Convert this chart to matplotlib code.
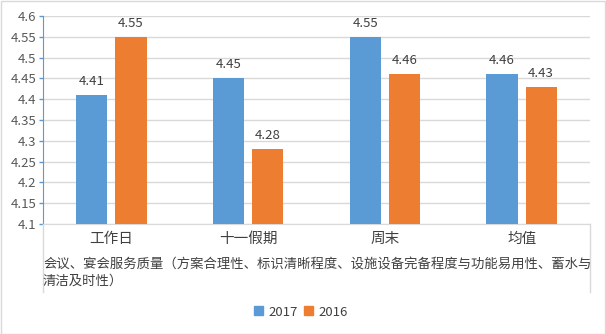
import matplotlib
matplotlib.use("Agg")
import matplotlib.pyplot as plt
import numpy as np
from matplotlib.patches import Rectangle
from matplotlib.lines import Line2D

plt.rcParams['font.family'] = ['Noto Sans CJK SC', 'DejaVu Sans']

categories = ["工作日", "十一假期", "周末", "均值"]
series_names = ["2017", "2016"]
values_2017 = [4.41, 4.45, 4.55, 4.46]
values_2016 = [4.55, 4.28, 4.46, 4.43]
y_ticks = [4.1, 4.15, 4.2, 4.25, 4.3, 4.35, 4.4, 4.45, 4.5, 4.55, 4.6]
axis_title = "会议、宴会服务质量（方案合理性、标识清晰程度、设施设备完备程度与功能易用性、蓄水与\n清洁及时性）"

colors = ["#5B9BD5", "#ED7D31"]
W, H = 606, 334
fig = plt.figure(figsize=(W / 100, H / 100), dpi=100)

left, right, top, bottom = 43, 590, 16, 224
ax = fig.add_axes([left / W, 1 - bottom / H, (right - left) / W, (bottom - top) / H])

x = np.arange(len(categories))
bw = 0.228
off = 0.143
b1 = ax.bar(x - off, np.array(values_2017) - 4.1, bw, bottom=4.1, color=colors[0], label=series_names[0], zorder=3)
b2 = ax.bar(x + off, np.array(values_2016) - 4.1, bw, bottom=4.1, color=colors[1], label=series_names[1], zorder=3)

for bars, vals in ((b1, values_2017), (b2, values_2016)):
    for rect, v in zip(bars, vals):
        ax.annotate(f"{v:.2f}", (rect.get_x() + rect.get_width() / 2, v),
                    xytext=(0, 5), textcoords="offset points", ha="center", va="bottom",
                    fontsize=9.5, color="#404040")

ax.set_xlim(-0.5, len(categories) - 0.5)
ax.set_ylim(4.1, 4.6)
ax.set_yticks(y_ticks)
ax.set_yticklabels([f"{t:g}" for t in y_ticks], fontsize=9.5, color="#595959")
ax.set_xticks(x)
ax.set_xticklabels(categories, fontsize=10.5, color="#404040")
ax.tick_params(axis="x", length=0, pad=6)
ax.tick_params(axis="y", length=3, width=1, color="#5B9BD5", pad=2)
ax.grid(axis="y", color="#D9D9D9", linewidth=1, zorder=0)
for s in ("top", "right"):
    ax.spines[s].set_visible(False)
ax.spines["left"].set_color("#5B9BD5")
ax.spines["bottom"].set_color("#D9D9D9")

# category label area dividers
for xp in (left, right):
    fig.add_artist(Line2D([xp / W, xp / W], [1 - bottom / H, 1 - 292 / H], color="#D9D9D9", lw=1))

fig.text(left / W, 1 - 258 / H, axis_title, fontsize=9.6, color="#404040", ha="left", va="top",
         linespacing=1.2)

handles = [Rectangle((0, 0), 1, 1, color=c) for c in colors]
fig.legend(handles, series_names, loc="center", bbox_to_anchor=(301 / W, 1 - 312 / H), ncol=2,
           frameon=False, fontsize=9.5, handlelength=0.65, handleheight=0.65, handletextpad=0.4,
           columnspacing=0.5, labelcolor="#404040")

fig.add_artist(Rectangle((0.5 / W, 0.5 / H), 1 - 1.5 / W, 1 - 1.5 / H, transform=fig.transFigure,
                         fill=False, edgecolor="#D9D9D9", lw=1))

fig.savefig("out.png", dpi=100)
